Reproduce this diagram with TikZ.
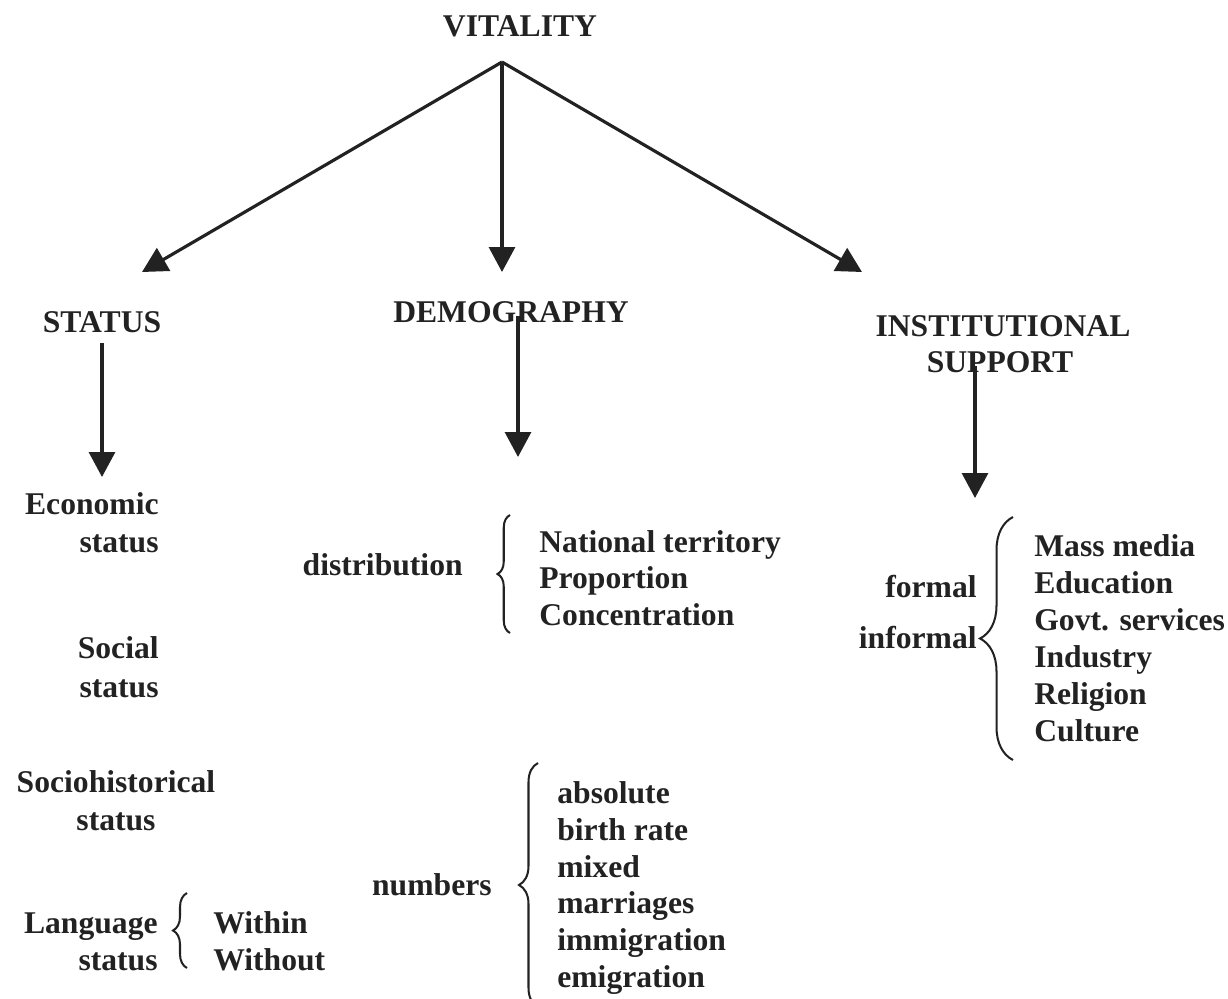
\documentclass[tikz,border=0pt]{standalone}
\usepackage{fontspec}
\setmainfont{Liberation Serif}
\usetikzlibrary{arrows.meta,decorations.pathreplacing,calc}
\definecolor{ink}{HTML}{222222}
\begin{document}
\begin{tikzpicture}[x=0.02cm,y=-0.02cm,
  lbl/.style={font=\fontsize{18}{21}\selectfont\bfseries,text=ink,inner sep=0pt},
  arr/.style={draw=ink,line width=1.8pt,-{Triangle[width=0.52cm,length=0.5cm]}},
  curly/.style={draw=ink,line width=1.15pt,decorate,decoration={brace,amplitude=#1}}]
\useasboundingbox (0,0) rectangle (1228,998);
\clip (0,0) rectangle (1228,998);

% top level
\node[lbl,anchor=base] (vit) at (520,36) {VITALITY};
\coordinate (apex) at (502,62);
\node[lbl,anchor=base] (status) at (102,332) {STATUS};
\node[lbl,anchor=base] (demog) at (511,322) {DEMOGRAPHY};
\node[lbl,anchor=base] (inst) at (1003,336) {INSTITUTIONAL};
\node[lbl,anchor=base] (supp) at (1000,372) {SUPPORT};

\coordinate (tipS) at (142,272);
\coordinate (tipD) at (502,272);
\coordinate (tipI) at (862,272);
\draw[arr] (apex) -- (tipS);
\draw[arr] (apex) -- (tipD);
\draw[arr] (apex) -- (tipI);

% status branch
\coordinate (stTop) at (102,343);
\coordinate (stTip) at (102,477);
\draw[arr] (stTop) -- (stTip);
\node[lbl,anchor=base east] (eco1) at (159,514) {Economic};
\node[lbl,anchor=base east] (eco2) at (159,552) {status};
\node[lbl,anchor=base east] (soc1) at (159,658) {Social};
\node[lbl,anchor=base east] (soc2) at (159,697) {status};
\node[lbl,anchor=base] (his1) at (116,792) {Sociohistorical};
\node[lbl,anchor=base] (his2) at (116,830) {status};
\node[lbl,anchor=base east] (lan1) at (158,933) {Language};
\node[lbl,anchor=base east] (lan2) at (158,970) {status};
\draw[curly=0.28cm] (187,968) -- (187,893);
\node[lbl,anchor=base west] (win) at (213,933) {Within};
\node[lbl,anchor=base west] (wout) at (213,970) {Without};

% demography branch
\coordinate (dmTop) at (518,316);
\coordinate (dmTip) at (518,457);
\draw[arr] (dmTop) -- (dmTip);
\node[lbl,anchor=base east] (dist) at (463,575) {distribution};
\draw[curly=0.25cm] (510,633) -- (510,515);
\node[lbl,anchor=base west] (nat) at (539,552) {National territory};
\node[lbl,anchor=base west] (prop) at (539,588) {Proportion};
\node[lbl,anchor=base west] (conc) at (539,625) {Concentration};

\node[lbl,anchor=base east] (num) at (492,895) {numbers};
\draw[curly=0.38cm] (538,1007) -- (538,763);
\node[lbl,anchor=base west] (n1) at (557,803) {absolute};
\node[lbl,anchor=base west] (n2) at (557,840) {birth rate};
\node[lbl,anchor=base west] (n3) at (557,877) {mixed};
\node[lbl,anchor=base west] (n4) at (557,913) {marriages};
\node[lbl,anchor=base west] (n5) at (557,950) {immigration};
\node[lbl,anchor=base west] (n6) at (557,987) {emigration};

% institutional support branch
\coordinate (isTop) at (975,366);
\coordinate (isTip) at (975,498);
\draw[arr] (isTop) -- (isTip);
\node[lbl,anchor=base east] (form) at (977,597) {formal};
\node[lbl,anchor=base east] (inform) at (977,648) {informal};
\draw[curly=0.66cm] (1013,760) -- (1013,517);
\node[lbl,anchor=base west] (i1) at (1034,556) {Mass media};
\node[lbl,anchor=base west] (i2) at (1034,593) {Education};
\node[lbl,anchor=base west] (i3) at (1034,630) {Govt. services};
\node[lbl,anchor=base west] (i4) at (1034,667) {Industry};
\node[lbl,anchor=base west] (i5) at (1034,704) {Religion};
\node[lbl,anchor=base west] (i6) at (1034,741) {Culture};
\end{tikzpicture}
\end{document}
